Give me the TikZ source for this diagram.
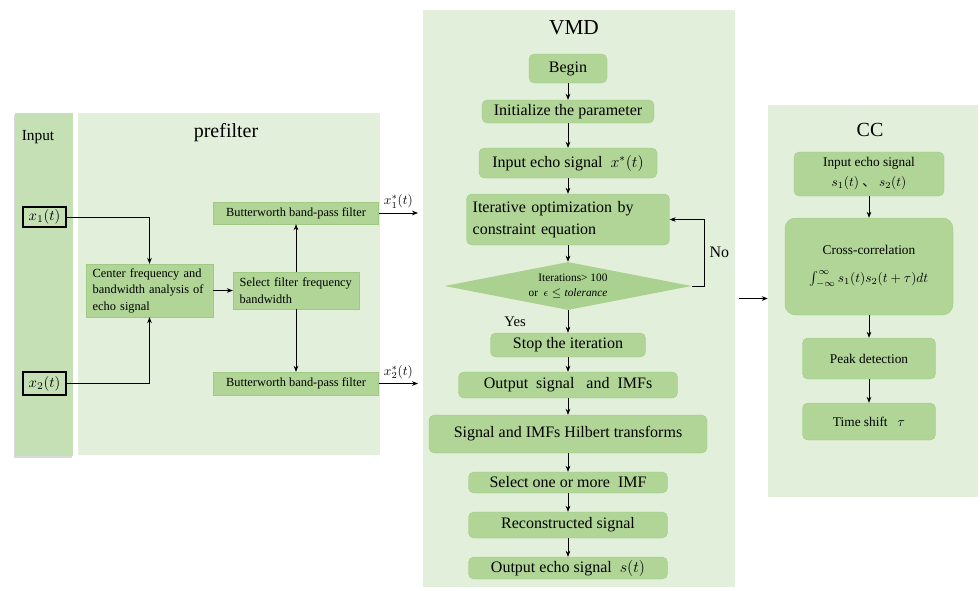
\documentclass[tikz,border=0pt]{standalone}
\usepackage{fix-cm}
\usepackage{fontspec}
\setmainfont{Liberation Serif}
\newfontfamily\cjk{Noto Sans CJK SC}
\usepackage{tikz}
\usetikzlibrary{arrows.meta,positioning,shapes.geometric,shadows}
\definecolor{panelbg}{RGB}{226,239,218}
\definecolor{inputbg}{RGB}{197,224,180}
\definecolor{boxfill}{RGB}{176,213,151}
\definecolor{boxedge}{RGB}{160,202,132}
\definecolor{decfill}{RGB}{170,209,143}

\begin{document}
\begin{tikzpicture}[
  x=0.75pt,y=-0.75pt,
  panel/.style={rectangle,fill=panelbg,inner sep=0pt},
  title/.style={font=\fontsize{15}{18}\selectfont},
  sig/.style={rectangle,draw,line width=1.1pt,inner sep=1pt,font=\fontsize{11}{13}\selectfont},
  pbox/.style={rectangle,fill=boxfill,draw=boxedge,line width=0.3pt,inner sep=2pt,
               font=\fontsize{9.3}{12.4}\selectfont},
  vbox/.style={rectangle,rounded corners=4pt,fill=boxfill,draw=boxedge,line width=0.3pt,
               inner sep=2pt,font=\fontsize{12}{16}\selectfont},
  cbox/.style={vbox,font=\fontsize{10}{15}\selectfont},
  dec/.style={diamond,aspect=5,fill=decfill,inner sep=0pt,align=right,
              font=\fontsize{8.5}{11}\selectfont},
  arr/.style={-{Stealth[length=4.5pt,width=3.5pt]},line width=0.6pt}
]
  \useasboundingbox (0,0) rectangle (980,590);

  \node[panel,fill=inputbg,drop shadow={shadow xshift=-1pt,shadow yshift=-1.5pt,opacity=0.3},
        minimum width=43.5pt,minimum height=257.25pt] (inp) at (44,284.5) {};
  \node[panel,minimum width=226.5pt,minimum height=256.5pt] (pre) at (229,284) {};
  \node[panel,minimum width=234pt,minimum height=432.75pt] (vmd) at (579,298.5) {};
  \node[panel,minimum width=157.5pt,minimum height=294pt] (cc) at (873,301) {};

  \node[font=\fontsize{11.5}{14}\selectfont] (inpt) at (38,137) {Input};
  \node[title] (pret) at (226,133) {prefilter};
  \node[title,font=\fontsize{16}{19}\selectfont] (vmdt) at (574,28) {VMD};
  \node[title] (cct) at (870,130) {CC};

  \node[sig,minimum width=32.25pt,minimum height=15pt] (x1) at (44.5,217) {$x_1(t)$};
  \node[sig,minimum width=32.25pt,minimum height=17.25pt] (x2) at (44.5,383.5) {$x_2(t)$};
  \node[pbox,align=left,text width=85.25pt,inner xsep=5pt,minimum height=39.75pt] (cfa) at (149.5,290.5)
    {Center frequency and\\bandwidth analysis of\\echo signal};
  \node[pbox,align=left,text width=84.5pt,inner xsep=5pt,minimum height=27.75pt] (sel) at (296,290.5)
    {Select filter frequency\\bandwidth};
  \node[pbox,minimum width=123.75pt,minimum height=16.5pt] (bw1) at (296,213) {Butterworth band-pass filter};
  \node[pbox,minimum width=123.75pt,minimum height=17.25pt] (bw2) at (296,383.5) {Butterworth band-pass filter};
  \coordinate (o1) at (418,213);
  \coordinate (o2) at (418,383.5);

  \draw[arr] (x1) -| (cfa);
  \draw[arr] (x2) -| (cfa);
  \draw[arr] (cfa) -- (sel);
  \draw[arr] (sel) -- (bw1);
  \draw[arr] (sel) -- (bw2);
  \draw[arr] (bw1) -- node[above,font=\fontsize{10}{12}\selectfont]{$x_1^{*}(t)$} (o1);
  \draw[arr] (bw2) -- node[above,font=\fontsize{10}{12}\selectfont]{$x_2^{*}(t)$} (o2);

  \node[vbox,minimum width=58.5pt,minimum height=21.75pt] (beg) at (568,68.5) {Begin};
  \node[vbox,minimum width=129pt,minimum height=17.25pt] (ini) at (568,111.5) {Initialize the parameter};
  \node[vbox,minimum width=133.5pt,minimum height=22.5pt] (ies) at (568,163) {Input echo signal\ \ $x^{*}(t)$};
  \node[vbox,align=left,text width=143pt,inner xsep=4.6pt,minimum height=38.25pt] (itr) at (568,219.5)
    {Iterative optimization by\\constraint equation};
  \node[dec,minimum width=185.25pt,minimum height=36pt] (chk) at (568,286)
    {Iterations> 100\\or\ \ $\epsilon \leq \mathit{tolerance}$};
  \node[vbox,minimum width=116.25pt,minimum height=18pt] (stp) at (568,345) {Stop the iteration};
  \node[vbox,minimum width=164.25pt,minimum height=19.5pt] (osg) at (568,385) {Output\ \ signal\ \ \ and\ \ IMFs};
  \node[vbox,minimum width=208.5pt,minimum height=28.5pt] (hil) at (568,434) {Signal and IMFs Hilbert transforms};
  \node[vbox,minimum width=149.25pt,minimum height=15.75pt] (imf) at (568,482.5) {Select one or more\ \ IMF};
  \node[vbox,minimum width=149.25pt,minimum height=19.5pt] (rec) at (568,525) {Reconstructed signal};
  \node[vbox,minimum width=149.25pt,minimum height=16.5pt] (oes) at (568,568) {Output echo signal\ \ $s(t)$};

  \foreach \a/\b in {beg/ini,ini/ies,ies/itr,itr/chk,stp/osg,osg/hil,hil/imf,imf/rec,rec/oes}
    \draw[arr] (\a) -- (\b);
  \draw[arr] (chk) -- node[left=28pt,font=\fontsize{11}{13}\selectfont]{Yes} (stp);
  \draw[arr] (chk.east) -- ++(13,0) |- (itr.east) node[pos=0.25,right,font=\fontsize{12}{14}\selectfont]{No};

  \node[cbox,align=center,minimum width=112.5pt,minimum height=33pt] (cin) at (869,174)
    {Input echo signal\\$s_1(t)$ {\cjk 、} $s_2(t)$};
  \node[cbox,rounded corners=8pt,align=center,minimum width=126pt,minimum height=72.75pt] (xc) at (869,266.5)
    {Cross-correlation\\[6pt]$\int_{-\infty}^{\infty}s_1(t)s_2(t+\tau)dt$};
  \node[cbox,minimum width=99.75pt,minimum height=30.75pt] (pk) at (869,358.5) {Peak detection};
  \node[cbox,minimum width=99.75pt,minimum height=27.75pt] (ts) at (869,421.5) {Time shift\ \ \ $\tau$};

  \draw[arr] (cin) -- (xc);
  \draw[arr] (xc) -- (pk);
  \draw[arr] (pk) -- (ts);
  \draw[arr,shorten <=3pt] (vmd.east) -- (vmd.east -| cc.west);
\end{tikzpicture}
\end{document}
